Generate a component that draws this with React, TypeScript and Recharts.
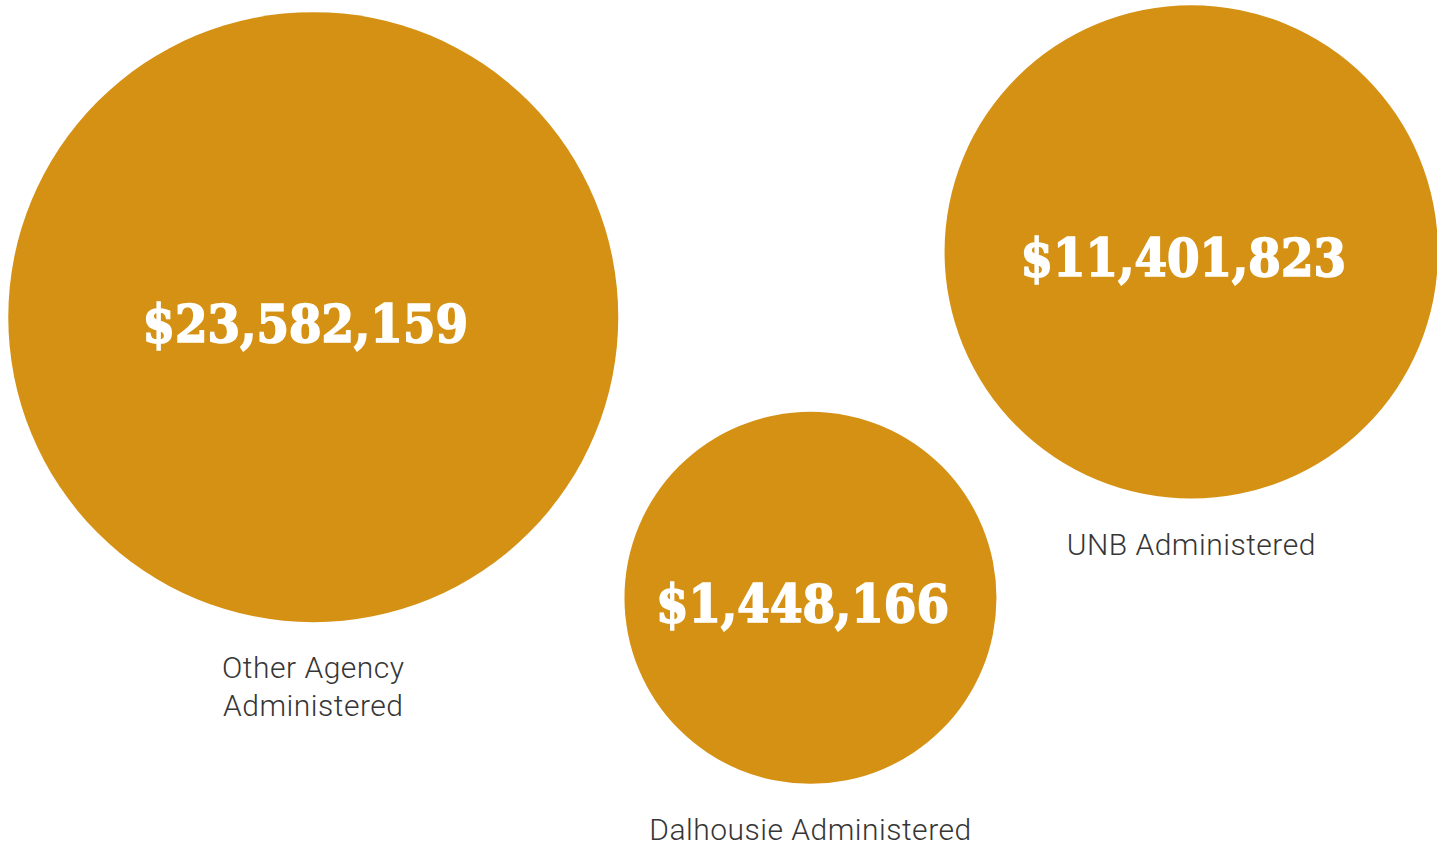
import { ScatterChart, Scatter, XAxis, YAxis, ZAxis } from "recharts";

const categories = ["Other Agency\nAdministered", "Dalhousie Administered", "UNB Administered"];
const amounts = [23582159, 1448166, 11401823];
// bubble centres, in layout units (0-100 on the hidden axes)
const posX = [21.8, 56.4, 82.9];
const posY = [37.4, 70.5, 29.7];

const GOLD = "#D59113";
const usd = (v: number) => "$" + v.toLocaleString("en-US");

const data = categories.map((name, i) => ({
  name,
  amount: amounts[i],
  x: posX[i],
  y: posY[i],
}));

function Bubble(props: any) {
  const { cx, cy, width, payload } = props;
  const r = width / 2;
  const lines = String(payload.name).split("\n");
  return (
    <g>
      <circle cx={cx} cy={cy} r={r} fill={GOLD} />
      <text
        x={cx - 8}
        y={cy + 6}
        textAnchor="middle"
        dominantBaseline="central"
        fill="#fff"
        stroke="#fff"
        strokeWidth={1.6}
        fontFamily='"DejaVu Serif"'
        fontWeight={700}
        fontStretch="condensed"
        fontSize={52}
      >
        {usd(payload.amount)}
      </text>
      <text
        x={cx}
        y={cy + r + 56}
        textAnchor="middle"
        fill="#363636"
        fontFamily="Roboto"
        fontWeight={300}
        fontSize={30}
        letterSpacing={0.5}
      >
        {lines.map((l, i) => (
          <tspan key={i} x={cx} dy={i === 0 ? 0 : 38}>
            {l}
          </tspan>
        ))}
      </text>
    </g>
  );
}

export default function App() {
  return (
    <div style={{ position: "absolute", left: 0, top: 0 }}>
      <ScatterChart width={1437} height={848} margin={{ top: 0, right: 0, bottom: 0, left: 0 }}>
        <XAxis type="number" dataKey="x" domain={[0, 100]} hide />
        <YAxis type="number" dataKey="y" domain={[0, 100]} reversed hide />
        <ZAxis
          type="number"
          dataKey="amount"
          domain={[Math.min(...amounts), Math.max(...amounts)]}
          range={[Math.PI * 186 * 186, Math.PI * 305 * 305]}
        />
        <Scatter data={data} shape={Bubble} isAnimationActive={false} />
      </ScatterChart>
    </div>
  );
}
